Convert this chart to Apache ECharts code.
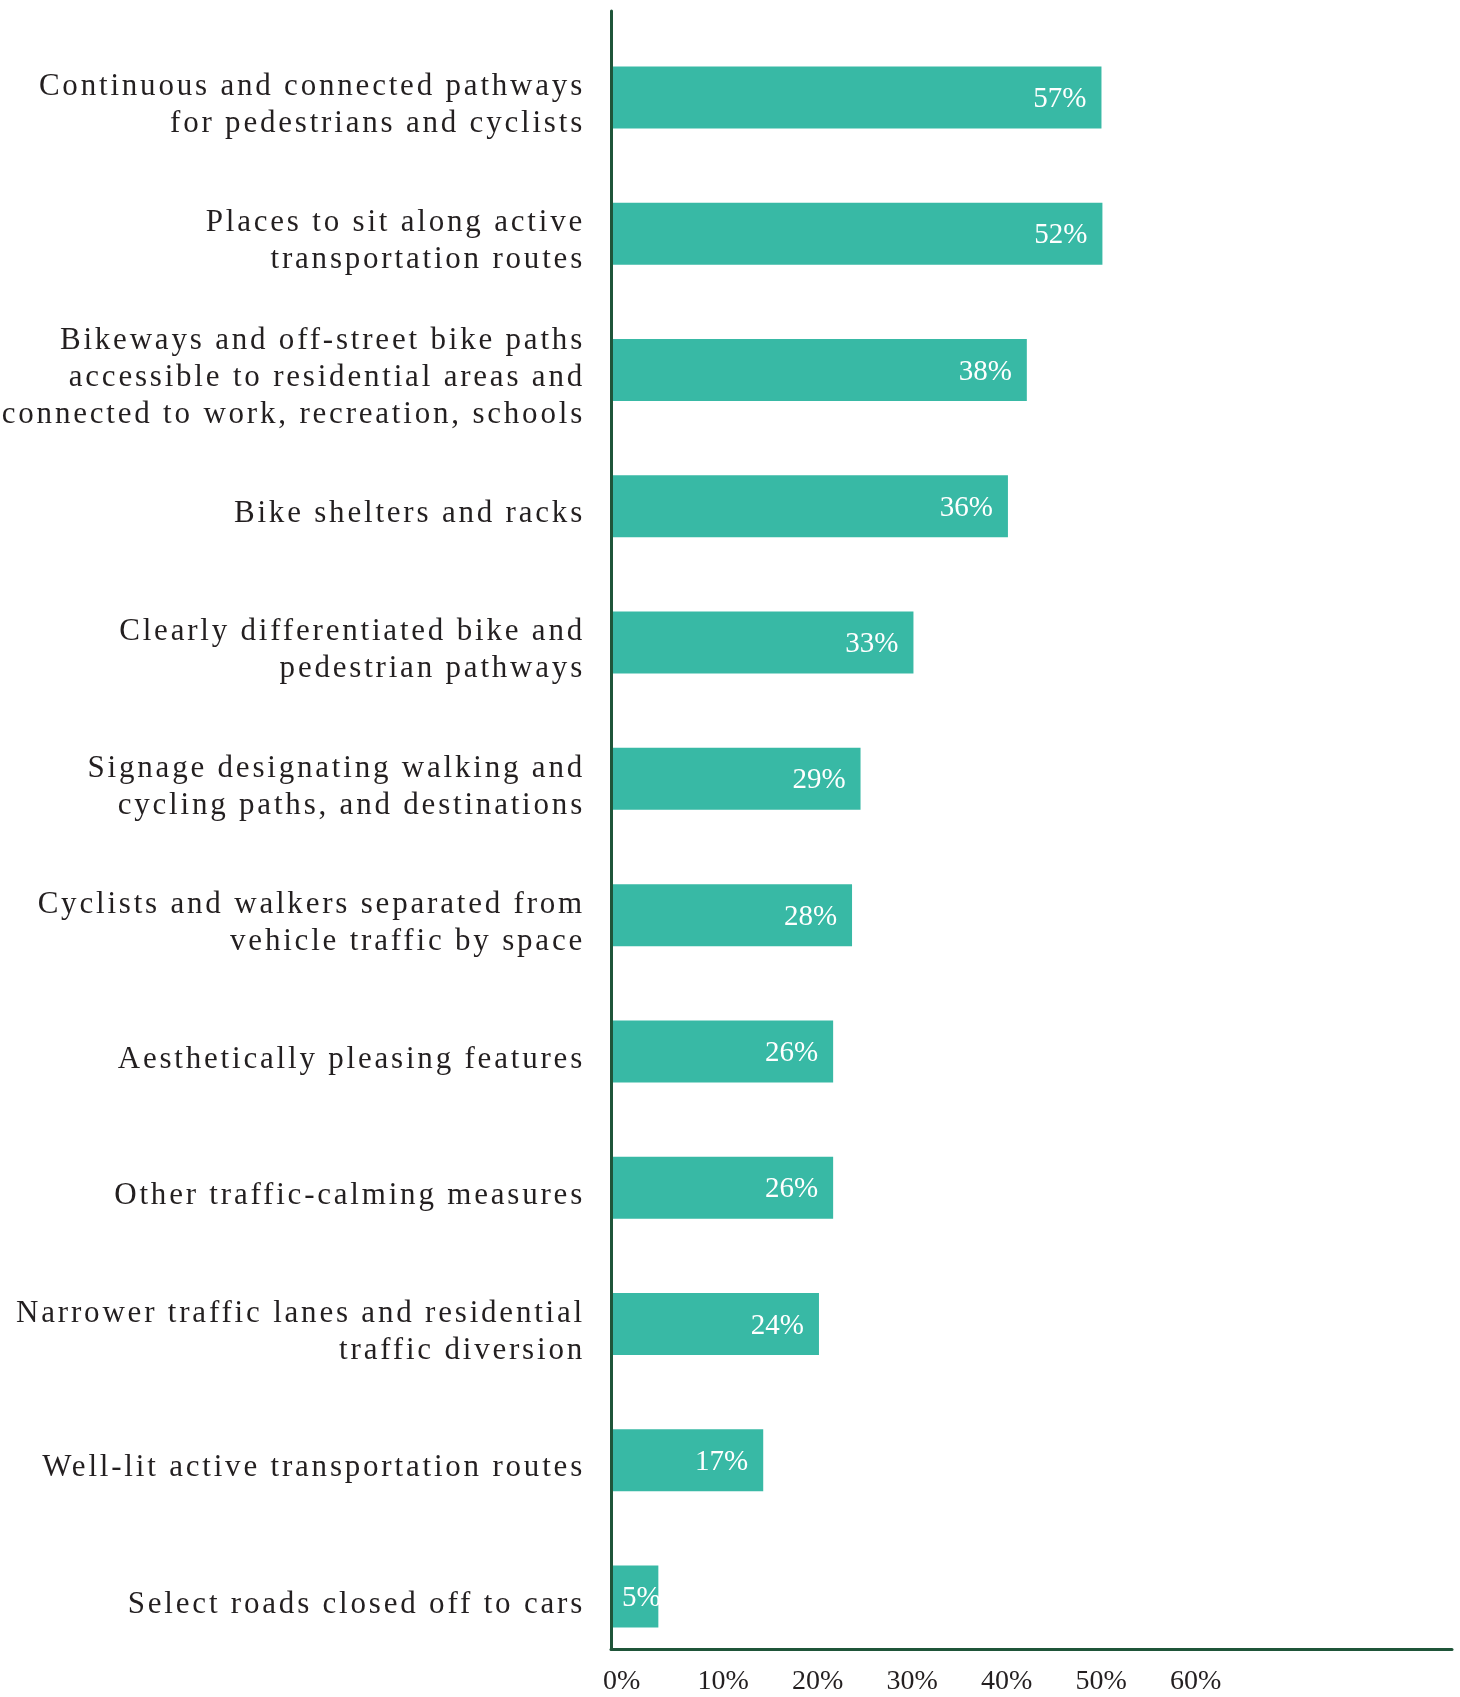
<!DOCTYPE html>
<html>
<head>
<meta charset="utf-8">
<script src="https://cdn.jsdelivr.net/npm/echarts@6/dist/echarts.min.js"></script>
<style>
  html, body { margin: 0; padding: 0; background: #ffffff; }
  #chart { width: 1460px; height: 1697px; }
</style>
</head>
<body>
<div id="chart"></div>
<script>
// ---- data ----
const categories = [
  "Continuous and connected pathways\nfor pedestrians and cyclists",
  "Places to sit along active\ntransportation routes",
  "Bikeways and off-street bike paths\naccessible to residential areas and\nconnected to work, recreation, schools",
  "Bike shelters and racks",
  "Clearly differentiated bike and\npedestrian pathways",
  "Signage designating walking and\ncycling paths, and destinations",
  "Cyclists and walkers separated from\nvehicle traffic by space",
  "Aesthetically pleasing features",
  "Other traffic-calming measures",
  "Narrower traffic lanes and residential\ntraffic diversion",
  "Well-lit active transportation routes",
  "Select roads closed off to cars"
];
// printed percentages on the bars
const shares = [57, 52, 38, 36, 33, 29, 28, 26, 26, 24, 17, 5];
// bar lengths as drawn against the axis (in axis %)
const barLengths = [51.7, 51.8, 43.8, 41.8, 31.8, 26.2, 25.3, 23.3, 23.3, 21.8, 15.9, 4.8];
// axis tick labels
const tickLabels = ["0%", "10%", "20%", "30%", "40%", "50%", "60%"];

// ---- tracked (letter-spaced) category labels ----
(function () {
  const proto = CanvasRenderingContext2D.prototype;
  const orig = proto.fillText;
  proto.fillText = function (t, x, y, m) {
    if ('letterSpacing' in this) {
      this.letterSpacing = (this.font.indexOf('31px') >= 0) ? '2.8px' : '0px';
    }
    return m === undefined ? orig.call(this, t, x, y) : orig.call(this, t, x, y, m);
  };
})();

const SERIF = "'Liberation Serif', 'Times New Roman', serif";
const TEXT = '#231f20';
const AXIS = '#1f5539';
const BAR = '#38b9a5';

const chart = echarts.init(document.getElementById('chart'), null, { renderer: 'canvas' });

const barData = barLengths.map(function (v, i) {
  const item = { value: v };
  if (v < 8) item.label = { position: 'insideLeft', distance: 9 };
  return item;
});

chart.setOption({
  animation: false,
  backgroundColor: '#ffffff',
  grid: [
    { left: 613, right: 8, top: 29.4, bottom: 32.4 },
    { left: 611, right: 8, top: 11, bottom: 48 }
  ],
  xAxis: [
    { gridIndex: 0, type: 'value', min: 0, max: 88.8, show: false },
    {
      gridIndex: 1, type: 'value', min: 0, max: 89.0, interval: 10,
      axisLine: { show: true, onZero: false, lineStyle: { color: AXIS, width: 3 } },
      axisTick: { show: false },
      splitLine: { show: false },
      axisLabel: {
        show: true,
        align: 'left',
        margin: 19,
        padding: [0, 0, 0, -8],
        color: TEXT,
        fontFamily: SERIF,
        fontSize: 28,
        formatter: function (v) {
          const idx = Math.round(v / 10);
          return (v % 10 === 0 && idx < tickLabels.length) ? tickLabels[idx] : '';
        }
      }
    }
  ],
  yAxis: [
    {
      gridIndex: 0, type: 'category', data: categories, inverse: true,
      axisLine: { show: false },
      axisTick: { show: false },
      splitLine: { show: false },
      axisLabel: {
        interval: 0,
        margin: 28,
        color: TEXT,
        fontFamily: SERIF,
        fontSize: 31,
        lineHeight: 37,
        align: 'right',
        formatter: function (v) { return '{s| }\n' + v; },
        rich: {
          s: { fontSize: 8, lineHeight: 16 }
        }
      }
    },
    {
      gridIndex: 1, type: 'value', min: 0, max: 1,
      axisLine: { show: true, onZero: false, lineStyle: { color: AXIS, width: 3 } },
      axisTick: { show: false },
      axisLabel: { show: false },
      splitLine: { show: false }
    }
  ],
  series: [
    {
      type: 'bar',
      xAxisIndex: 0,
      yAxisIndex: 0,
      data: barData,
      barWidth: 62,
      itemStyle: { color: BAR },
      label: {
        show: true,
        position: 'insideRight',
        distance: 15,
        offset: [0, 2],
        color: '#ffffff',
        fontFamily: SERIF,
        fontSize: 29,
        formatter: function (p) { return shares[p.dataIndex] + '%'; }
      }
    }
  ]
});
</script>
</body>
</html>
